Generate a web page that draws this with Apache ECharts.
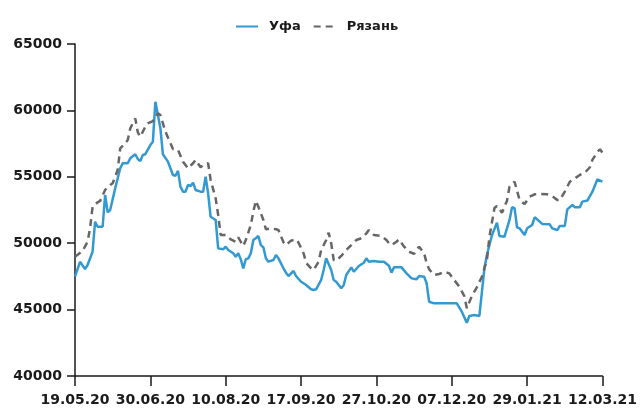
<!DOCTYPE html>
<html>
<head>
<meta charset="utf-8">
<script src="https://cdn.jsdelivr.net/npm/echarts@6/dist/echarts.min.js"></script>
<style>html,body{margin:0;padding:0;background:#fff}#c{width:640px;height:410px}</style>
</head>
<body>
<div id="c"></div>
<script>
// Tick labels on the x axis (every 30 trading days)
var tickLabels = ['19.05.20','30.06.20','10.08.20','17.09.20','27.10.20','07.12.20','29.01.21','12.03.21'];
var tickStep = 30;
var lastIndex = 210;

// Уфа: [trading-day index, value]
var ufaIdx = [0,2,4,5,7,8,9,11,12,13,14,16,18,19,21,22,24,25,26,27,28,30,31,32,34,35,37,39,40,41,42,43,44,45,46,47,48,50,51,52,53,54,56,57,59,60,61,63,64,65,66,67,68,69,70,71,72,73,74,75,76,77,79,80,81,83,84,85,87,88,90,91,92,94,95,96,98,99,100,102,103,104,106,107,108,110,111,113,115,116,117,119,121,123,125,126,127,130,132,134,136,137,139,140,141,143,152,154,156,157,159,161,163,164,166,168,169,171,173,174,175,176,177,179,180,182,183,184,186,189,190,192,193,195,196,198,199,201,202,204,206,208,210];
var ufaVal = [47480,48600,48060,48360,49360,51620,51240,51240,53630,52330,52500,54130,55640,56020,56020,56390,56700,56340,56190,56640,56700,57390,57640,60650,58650,56700,56140,55140,55080,55450,54260,53880,53880,54380,54310,54560,54010,53880,53880,55010,53760,51990,51750,49610,49540,49740,49490,49240,48980,49240,48790,48110,48790,48860,49240,50240,50370,50540,49860,49690,48860,48610,48730,49110,48860,48110,47780,47530,47910,47530,47100,46980,46850,46530,46480,46530,47230,47980,48860,47980,47230,47100,46600,46850,47610,48180,47850,48280,48530,48860,48610,48660,48610,48610,48300,47780,48180,48180,47730,47350,47280,47530,47480,46980,45590,45470,45470,44840,44010,44520,44590,44520,48110,49110,50600,51540,50540,50490,51750,52710,52630,51200,51120,50620,51120,51370,51950,51800,51450,51420,51120,50990,51300,51300,52550,52880,52710,52710,53130,53210,53880,54810,54630];

// Рязань: [trading-day index, value]
var ryazIdx = [0,3,5,6,7,9,10,12,14,15,17,18,20,21,22,24,25,26,28,29,31,33,34,36,38,39,41,43,45,47,48,50,51,53,54,56,57,58,60,62,64,65,67,68,70,71,72,73,75,76,78,80,81,83,84,86,88,89,91,92,94,95,97,98,100,101,102,103,104,106,108,110,112,114,116,117,119,122,124,125,126,128,129,131,133,135,136,137,139,140,141,143,145,147,149,151,153,155,156,158,160,162,164,165,167,168,170,172,173,175,176,177,179,181,183,185,188,190,192,193,195,197,199,201,203,205,206,208,209,210];
var ryazVal = [48980,49410,50110,51120,52750,53080,53180,54010,54380,54510,55510,57140,57520,57770,58650,59400,58350,58020,58770,59030,59200,59780,59650,58400,57520,57090,57020,56140,55640,56020,56270,55720,55890,56020,54760,53380,52120,50620,50620,50290,50110,50440,49790,50240,51370,52370,53200,52750,51750,51050,51120,51050,50990,50070,49860,50190,50290,50040,49240,48530,48110,47980,48610,49490,50240,50790,49990,48730,48680,49040,49490,49860,50240,50370,50740,50990,50620,50540,50240,50000,49860,50110,50290,49740,49360,49190,49490,49740,49240,48490,48030,47610,47680,47850,47730,47230,46730,46020,45100,46020,46680,47480,48730,50490,52650,52800,52300,53200,54260,54630,53950,53250,52950,53500,53680,53700,53680,53550,53250,53250,53880,54630,54880,55140,55310,55720,56270,56890,57070,56820];

var yMin = 40000, yMax = 65000, yStep = 5000;

function pairs(ix, vals){ return ix.map(function(x,i){ return [x, vals[i]]; }); }

var font = 'DejaVu Sans';
var chart = echarts.init(document.getElementById('c'), null, {renderer:'canvas'});
chart.setOption({
  animation: false,
  backgroundColor: '#ffffff',
  legend: {
    top: 15,
    left: 230,
    itemWidth: 22,
    itemHeight: 10,
    itemGap: 12,
    itemStyle: {opacity: 0},
    textStyle: {fontFamily: font, fontWeight: 'bold', fontSize: 13, color: '#1a1a1a', padding: [0, 0, 0, 6]},
    data: ['Уфа', 'Рязань']
  },
  grid: {left: 75, right: 33, top: 44, bottom: 34, containLabel: false},
  xAxis: {
    type: 'value',
    min: 0, max: lastIndex, interval: tickStep,
    splitLine: {show: false},
    axisLine: {show: true, lineStyle: {color: '#1a1a1a', width: 1.5}},
    axisTick: {show: true, length: 10, lineStyle: {color: '#1a1a1a', width: 1.5}},
    axisLabel: {
      margin: 17,
      fontFamily: font, fontWeight: 'bold', fontSize: 14, color: '#1a1a1a',
      formatter: function(v){ return tickLabels[Math.round(v / tickStep)] || ''; }
    }
  },
  yAxis: {
    type: 'value',
    min: yMin, max: yMax, interval: yStep,
    splitLine: {show: false},
    axisLine: {show: true, lineStyle: {color: '#1a1a1a', width: 1.5}},
    axisTick: {show: true, length: 8, lineStyle: {color: '#1a1a1a', width: 1.5}},
    axisLabel: {margin: 13, fontFamily: font, fontWeight: 'bold', fontSize: 14, color: '#1a1a1a',
      formatter: function(v){ return String(v); }}
  },
  series: [
    {
      name: 'Уфа', type: 'line', symbol: 'none',
      data: pairs(ufaIdx, ufaVal),
      lineStyle: {color: '#3399d1', width: 2.5},
      itemStyle: {color: '#3399d1'}
    },
    {
      name: 'Рязань', type: 'line', symbol: 'none',
      data: pairs(ryazIdx, ryazVal),
      lineStyle: {color: '#666666', width: 2.5, type: [7, 5]},
      itemStyle: {color: '#666666'}
    }
  ]
});
</script>
</body>
</html>
